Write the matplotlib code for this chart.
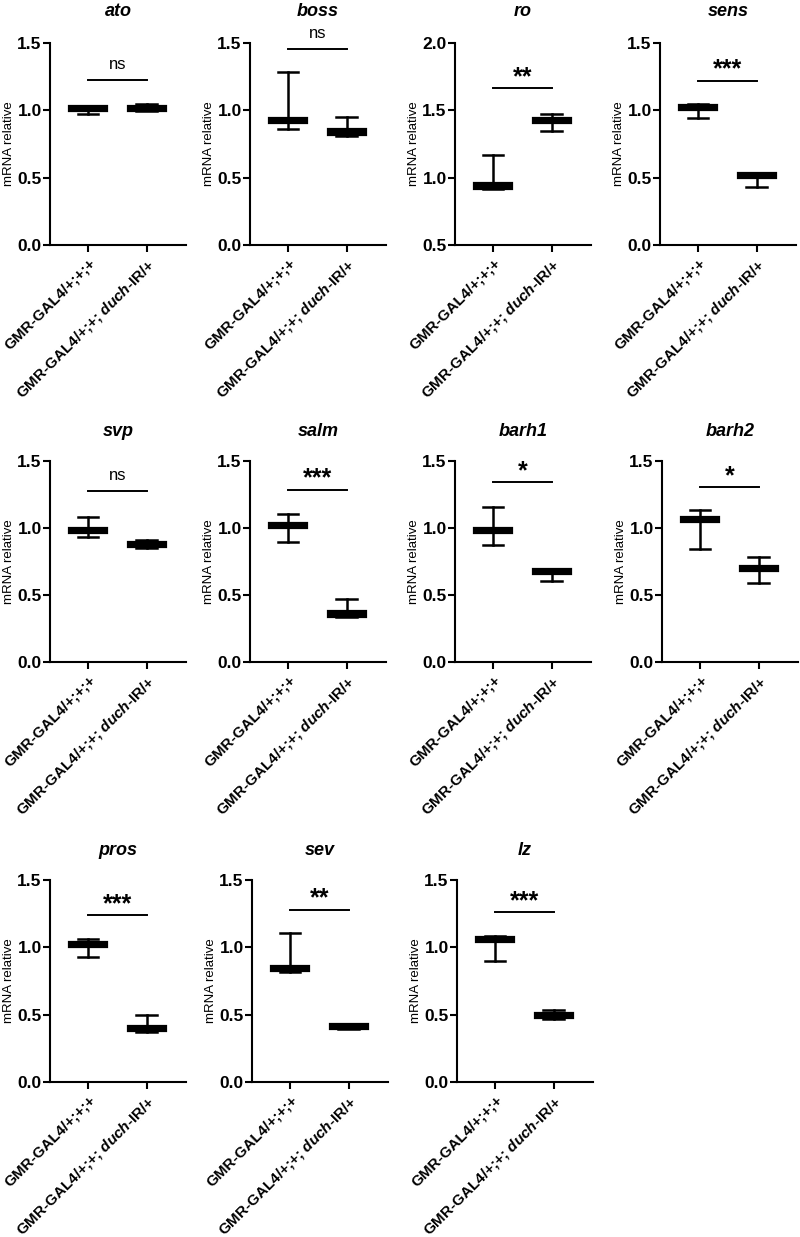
import matplotlib
matplotlib.use('Agg')
import matplotlib.pyplot as plt

plt.rcParams['font.family'] = ['Liberation Sans', 'DejaVu Sans']
plt.rcParams['mathtext.fontset'] = 'custom'
plt.rcParams['mathtext.rm'] = 'Liberation Sans'
plt.rcParams['mathtext.it'] = 'Liberation Sans:italic'
plt.rcParams['mathtext.bf'] = 'Liberation Sans:bold'
plt.rcParams['mathtext.bfit'] = 'Liberation Sans:italic:bold'

# ---------------- data ----------------
genes = ['ato', 'boss', 'ro', 'sens', 'svp', 'salm', 'barh1', 'barh2', 'pros', 'sev', 'lz']
group_labels = ['GMR-GAL4/+;+;+', r'GMR-GAL4/+;+; $\mathbfit{duch}$-IR/+']

# (min, q1, median, q3, max) for control
ctrl_stats = [
    (0.970, 0.995, 1.010, 1.030, 1.030),
    (0.860, 0.905, 0.920, 0.945, 1.285),
    (0.915, 0.915, 0.940, 0.960, 1.170),
    (0.945, 1.000, 1.020, 1.040, 1.048),
    (0.935, 0.962, 0.980, 1.000, 1.084),
    (0.898, 0.999, 1.020, 1.040, 1.107),
    (0.873, 0.962, 0.980, 1.003, 1.159),
    (0.846, 1.042, 1.060, 1.082, 1.133),
    (0.926, 1.000, 1.020, 1.041, 1.062),
    (0.820, 0.822, 0.840, 0.862, 1.104),
    (0.899, 1.041, 1.060, 1.078, 1.087),
]
# (min, q1, median, q3, max) for duch-IR
kd_stats = [
    (0.995, 0.995, 1.010, 1.030, 1.045),
    (0.812, 0.820, 0.840, 0.862, 0.948),
    (1.350, 1.405, 1.425, 1.445, 1.472),
    (0.427, 0.495, 0.510, 0.533, 0.535),
    (0.851, 0.858, 0.875, 0.897, 0.911),
    (0.337, 0.339, 0.360, 0.381, 0.471),
    (0.608, 0.657, 0.675, 0.694, 0.695),
    (0.587, 0.678, 0.695, 0.716, 0.785),
    (0.375, 0.377, 0.400, 0.418, 0.496),
    (0.390, 0.392, 0.410, 0.428, 0.430),
    (0.470, 0.476, 0.490, 0.510, 0.532),
]
sig_text = ['ns', 'ns', '**', '***', 'ns', '***', '*', '*', '***', '**', '***']
sig_y = [1.225, 1.458, 1.663, 1.221, 1.275, 1.285, 1.34, 1.303, 1.24, 1.28, 1.26]
y_ranges = [(0, 1.5)] * 11
y_ranges[2] = (0.5, 2.0)

# ---------------- layout (pixels) ----------------
W, H = 800, 1237
rows = [(43, 245, 12), (461, 662, 432), (880, 1082, 850)]
col_left = [[50, 250, 455, 660], [50, 250, 455, 662], [50, 252, 457]]
ax_w = 136

fig = plt.figure(figsize=(W / 100, H / 100), dpi=100)

idx = 0
for r, (top, bot, title_y) in enumerate(rows):
    for left in col_left[r]:
        ax = fig.add_axes([left / W, 1 - bot / H, ax_w / W, (bot - top) / H])
        g = idx
        stats = []
        for s in (ctrl_stats[g], kd_stats[g]):
            stats.append(dict(whislo=s[0], q1=s[1], med=s[2], q3=s[3], whishi=s[4], fliers=[]))
        ax.bxp(stats, positions=[0, 1], widths=0.65, capwidths=0.35, patch_artist=True,
               showfliers=False,
               boxprops=dict(facecolor='black', edgecolor='black', linewidth=1.6),
               medianprops=dict(color='black', linewidth=1.6),
               whiskerprops=dict(color='black', linewidth=1.8),
               capprops=dict(color='black', linewidth=1.8))
        ax.set_xlim(-0.65, 1.67)
        lo, hi = y_ranges[g]
        ax.set_ylim(lo, hi)
        ax.set_yticks([lo + 0.5 * k for k in range(4)])
        ax.set_yticklabels([f'{lo + 0.5 * k:.1f}' for k in range(4)], fontweight='bold', fontsize=12.5)
        ax.set_xticks([0, 1])
        ax.set_xticklabels(group_labels, rotation=45, ha='right', rotation_mode='anchor',
                           fontweight='bold', fontsize=11)
        for sp in ['top', 'right']:
            ax.spines[sp].set_visible(False)
        for sp in ['left', 'bottom']:
            ax.spines[sp].set_linewidth(1.5)
        ax.tick_params(axis='both', length=5, width=1.5, direction='out')
        ax.tick_params(axis='x', pad=3)
        ax.tick_params(axis='y', pad=1)
        ax.set_ylabel('mRNA relative', fontsize=9.5, labelpad=2)
        # significance bar
        ax.plot([0, 1], [sig_y[g], sig_y[g]], color='black', linewidth=1.4, clip_on=False)
        if sig_text[g] == 'ns':
            ax.annotate('ns', xy=(0.5, sig_y[g]), xytext=(0, 11), textcoords='offset points',
                        ha='center', va='center', fontsize=12, annotation_clip=False)
        else:
            ax.annotate(sig_text[g], xy=(0.5, sig_y[g]), xytext=(0, 8), textcoords='offset points',
                        ha='center', va='center', fontsize=18, fontweight='bold',
                        annotation_clip=False)
        ax.text(0.5, 1 + (top - title_y) / (bot - top), genes[g], transform=ax.transAxes,
                ha='center', va='center', fontsize=13, fontweight='bold', fontstyle='italic')
        idx += 1

fig.savefig('out.png', dpi=100)
